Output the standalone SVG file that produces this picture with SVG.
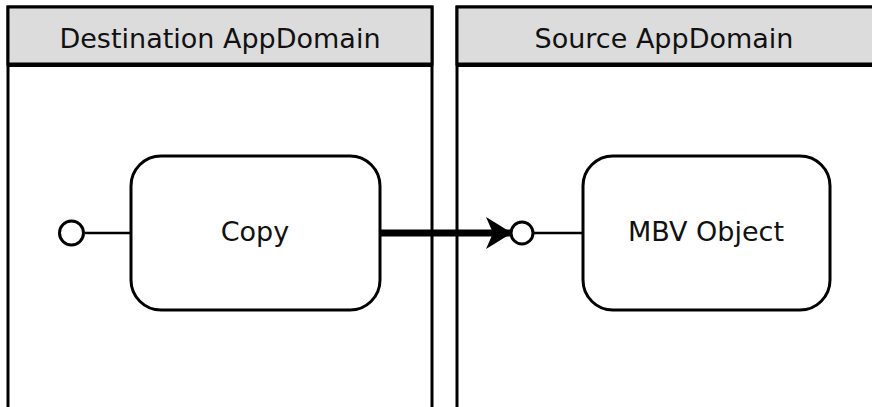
<svg xmlns="http://www.w3.org/2000/svg" width="872" height="407" viewBox="0 0 872 407">
  <style>
    .lane { fill: #ffffff; stroke: #000; stroke-width: 3; }
    .head { fill: #dcdcdc; stroke: #000; stroke-width: 3; }
    .label { font-family: "DejaVu Sans", "Liberation Sans", sans-serif; font-size: 27px; fill: #111; text-anchor: middle; }
    .box { fill: #fff; stroke: #000; stroke-width: 3; }
    .pin { fill: #fff; stroke: #000; stroke-width: 3; }
    .wire { stroke: #000; stroke-width: 2.5; fill: none; }
    .flow { stroke: #000; stroke-width: 7; fill: none; }
  </style>
  <defs>
    <marker id="barb" markerUnits="userSpaceOnUse" markerWidth="30" markerHeight="34" refX="26" refY="17" orient="auto">
      <path d="M0,1 L26,17 L0,33 L7,17 Z" fill="#000"/>
    </marker>
  </defs>
  <rect width="872" height="407" fill="#fff"/>

  <g id="lane-destination">
    <path class="lane" d="M8,420 V7 H432 V420"/>
    <rect class="head" x="8" y="7" width="424" height="57"/>
    <line x1="8" y1="65" x2="432" y2="65" stroke="#000" stroke-width="4"/>
    <text class="label" x="220" y="48">Destination AppDomain</text>
  </g>

  <g id="lane-source">
    <path class="lane" d="M457,420 V7 H880"/>
    <rect class="head" x="457" y="7" width="423" height="57"/>
    <line x1="457" y1="65" x2="880" y2="65" stroke="#000" stroke-width="4"/>
    <text class="label" x="664" y="48">Source AppDomain</text>
  </g>

  <g id="connectors">
    <line class="wire" x1="85" y1="233" x2="131" y2="233"/>
    <line class="wire" x1="534" y1="233" x2="583" y2="233"/>
    <line class="flow" x1="380" y1="233" x2="512" y2="233" marker-end="url(#barb)"/>
  </g>

  <g id="copy">
    <circle class="pin" cx="71.5" cy="233" r="12"/>
    <rect class="box" x="131" y="156" width="249" height="154" rx="30" ry="30"/>
    <text class="label" x="255" y="241">Copy</text>
  </g>

  <g id="mbv-object">
    <circle class="pin" cx="522" cy="233" r="11"/>
    <rect class="box" x="583" y="156" width="247" height="154" rx="30" ry="30"/>
    <text class="label" x="706" y="241">MBV Object</text>
  </g>
</svg>
